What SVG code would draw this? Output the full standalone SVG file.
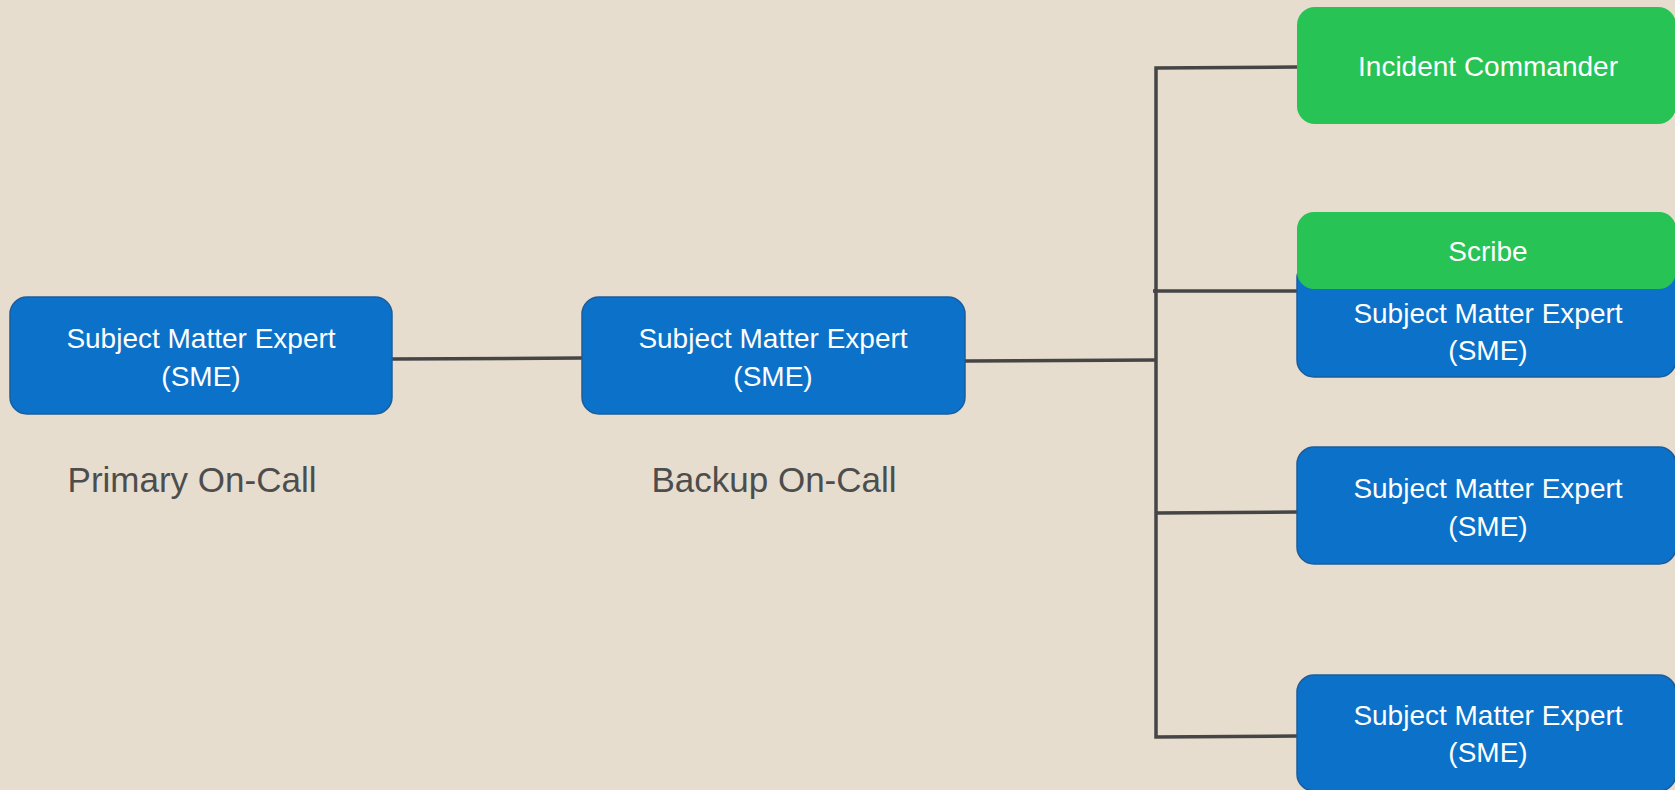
<svg xmlns="http://www.w3.org/2000/svg" width="1675" height="790" viewBox="0 0 1675 790">
<style>
.bg{fill:#e6ddcf}
.sme{fill:#0b71c9;stroke:#1b5d9c;stroke-width:1.5}
.grn{fill:#27c354}
.t{font-family:"Liberation Sans",Arial,sans-serif;font-size:28px;fill:#ffffff;text-anchor:middle}
.lbl{font-family:"Liberation Sans",Arial,sans-serif;font-size:35px;fill:#4d4d4d;text-anchor:middle}
.c{stroke:#454545;stroke-width:3.5;fill:none}
</style>
<rect class="bg" x="0" y="0" width="1675" height="790"/>
<g id="connectors">
<line class="c" x1="392" y1="359" x2="582" y2="358"/>
<line class="c" x1="965" y1="361" x2="1156" y2="360"/>
<polyline class="c" points="1297,67 1156,68 1156,737 1297,736"/>
<line class="c" x1="1153" y1="291" x2="1297" y2="291"/>
<line class="c" x1="1156" y1="513" x2="1297" y2="512"/>
</g>
<g id="primary">
<rect class="sme" x="10" y="297" width="382" height="117" rx="17"/>
<text class="t" x="201" y="348">Subject Matter Expert</text>
<text class="t" x="201" y="386">(SME)</text>
</g>
<text id="primary-label" class="lbl" x="192" y="492">Primary On-Call</text>
<g id="backup">
<rect class="sme" x="582" y="297" width="383" height="117" rx="17"/>
<text class="t" x="773" y="348">Subject Matter Expert</text>
<text class="t" x="773" y="386">(SME)</text>
</g>
<text id="backup-label" class="lbl" x="774" y="492">Backup On-Call</text>
<g id="incident-commander">
<rect class="grn" x="1297" y="7" width="379" height="117" rx="18"/>
<text class="t" x="1488" y="76">Incident Commander</text>
</g>
<g id="sme-2">
<rect class="sme" x="1297" y="261" width="379" height="116" rx="17"/>
<text class="t" x="1488" y="323">Subject Matter Expert</text>
<text class="t" x="1488" y="360">(SME)</text>
</g>
<g id="scribe">
<rect class="grn" x="1297" y="212" width="379" height="77" rx="17"/>
<text class="t" x="1488" y="261">Scribe</text>
</g>
<g id="sme-3">
<rect class="sme" x="1297" y="447" width="379" height="117" rx="17"/>
<text class="t" x="1488" y="498">Subject Matter Expert</text>
<text class="t" x="1488" y="536">(SME)</text>
</g>
<g id="sme-4">
<rect class="sme" x="1297" y="675" width="379" height="116" rx="17"/>
<text class="t" x="1488" y="725">Subject Matter Expert</text>
<text class="t" x="1488" y="762">(SME)</text>
</g>
</svg>
